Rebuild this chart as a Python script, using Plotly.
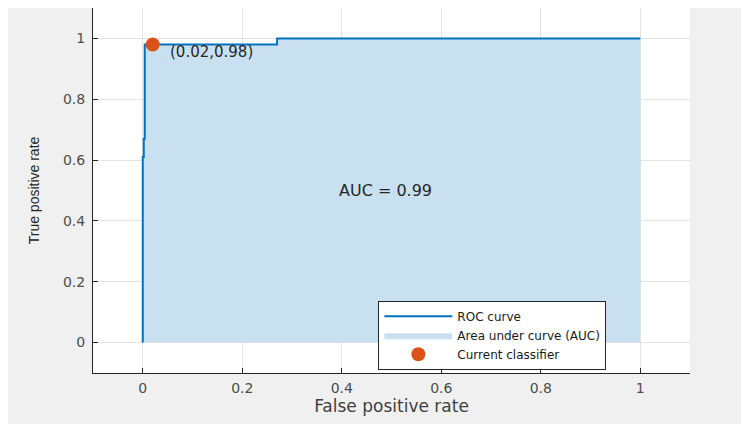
import plotly.graph_objects as go

# ROC curve points
fpr = [0, 0, 0.002, 0.002, 0.004, 0.004, 0.27, 0.27, 1.0]
tpr = [0, 0.61, 0.61, 0.67, 0.67, 0.98, 0.98, 1.0, 1.0]

current_fpr = [0.02]
current_tpr = [0.98]
auc_value = 0.99

tick_vals = [0, 0.2, 0.4, 0.6, 0.8, 1]
tick_text = ["0", "0.2", "0.4", "0.6", "0.8", "1"]

line_blue = "#0072BD"
fill_blue = "#C9E0F0"
dot_orange = "#D95319"
wide_font = "DejaVu Sans, Verdana, sans-serif"

fig = go.Figure()

# area under curve (fill only)
fig.add_trace(go.Scatter(
    x=fpr, y=tpr, mode="lines", fill="tozeroy",
    fillcolor=fill_blue, line=dict(width=0, color=fill_blue),
    name="Area under curve (AUC)"
))
# ROC line
fig.add_trace(go.Scatter(
    x=fpr, y=tpr, mode="lines",
    line=dict(color=line_blue, width=2),
    name="ROC curve"
))
# current classifier
fig.add_trace(go.Scatter(
    x=current_fpr, y=current_tpr, mode="markers",
    marker=dict(color=dot_orange, size=14),
    name="Current classifier"
))

fig.add_annotation(
    x=current_fpr[0] + 0.03, y=current_tpr[0] - 0.025,
    text="(%.2f,%.2f)" % (current_fpr[0], current_tpr[0]),
    showarrow=False, xanchor="left", yanchor="middle",
    font=dict(size=15, color="#262626", family=wide_font)
)
fig.add_annotation(
    x=0.487, y=0.5, text="AUC = %.2f" % auc_value,
    showarrow=False, font=dict(size=16, color="#262626", family=wide_font)
)

axis_common = dict(
    tickvals=tick_vals, ticktext=tick_text,
    showgrid=True, gridcolor="#E3E3E3", gridwidth=1,
    zeroline=False, showline=True, linecolor="#262626", linewidth=1,
    ticks="inside", ticklen=5, tickcolor="#262626",
    tickfont=dict(size=14, color="#4D4D4D", family=wide_font),
    mirror=False,
)

fig.update_layout(
    width=741, height=416,
    margin=dict(l=85, r=59, t=0, b=51),
    paper_bgcolor="#F0F0F0", plot_bgcolor="white",
    font=dict(family=wide_font, color="#262626"),
    xaxis=dict(range=[-0.1, 1.1], ticklabelstandoff=2,
               title=dict(text="False positive rate",
                          font=dict(size=17, color="#404040"), standoff=2),
               **axis_common),
    yaxis=dict(range=[-0.1, 1.1], ticklabelstandoff=4,
               title=dict(text="True positive rate",
                          font=dict(size=14, color="#262626",
                                    family="Liberation Sans, Arial, sans-serif"),
                          standoff=20),
               **axis_common),
    legend=dict(
        x=0.478, y=0.198, xanchor="left", yanchor="top",
        bgcolor="white", bordercolor="#262626", borderwidth=1,
        font=dict(size=12, color="#1A1A1A", family=wide_font),
        traceorder="normal", tracegroupgap=0, itemwidth=68,
    ),
    showlegend=True,
)

# legend order: ROC curve, AUC area, classifier
fig.data[1].legendrank = 1
fig.data[0].legendrank = 2
fig.data[2].legendrank = 3

fig.write_html("out.html")
